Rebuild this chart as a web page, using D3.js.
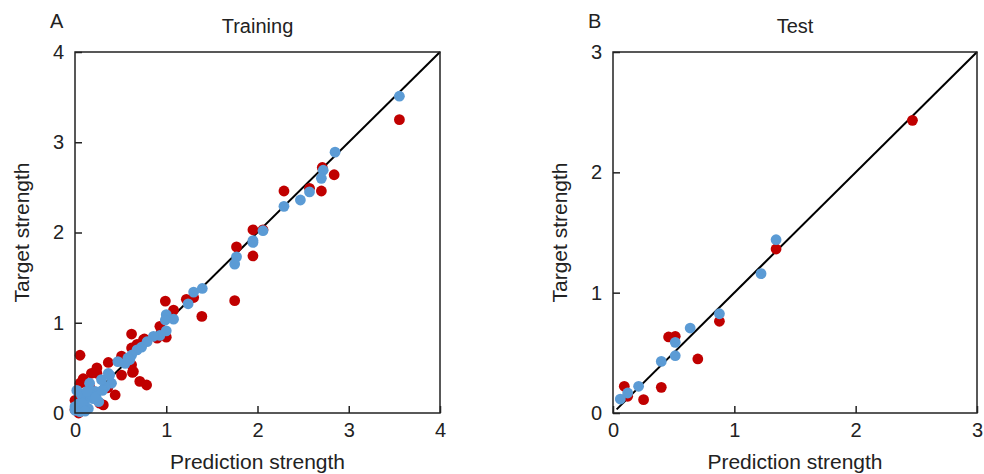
<!DOCTYPE html>
<html>
<head>
<meta charset="utf-8">
<script src="https://cdn.jsdelivr.net/npm/d3@7"></script>
<style>
  body { margin: 0; background: #fff; }
  svg { display: block; font-family: "Liberation Sans", Arial, sans-serif; }
</style>
</head>
<body>
<svg width="984" height="474"></svg>
<script>
// panel A (training): [prediction, target]
const trainingRed = [
  [3.555, 3.25], [2.84, 2.64], [2.71, 2.72], [2.70, 2.46], [2.57, 2.49], [2.29, 2.46],
  [2.06, 2.03], [1.95, 2.03], [1.95, 1.74], [1.77, 1.84], [1.75, 1.245], [1.39, 1.07],
  [1.30, 1.28], [1.22, 1.26], [1.08, 1.14], [0.99, 1.24], [1.0, 0.84], [0.93, 0.96],
  [0.90, 0.83], [0.76, 0.82], [0.75, 0.81], [0.62, 0.875], [0.62, 0.72], [0.68, 0.76],
  [0.62, 0.535], [0.63, 0.45], [0.71, 0.35], [0.785, 0.31], [0.51, 0.63], [0.365, 0.56],
  [0.51, 0.42], [0.64, 0.46], [0.44, 0.20], [0.055, 0.64], [0.055, 0.33], [0.24, 0.50],
  [0.18, 0.44], [0.09, 0.38], [0.31, 0.09], [0.0, 0.14], [0.0, 0.04], [0.04, 0.0],
  [0.27, 0.11], [0.16, 0.29], [0.36, 0.28], [0.15, 0.30], [0.24, 0.44]
]
const trainingBlue = [
  [3.555, 3.51], [2.85, 2.89], [2.72, 2.69], [2.70, 2.60], [2.57, 2.45], [2.47, 2.36],
  [2.29, 2.29], [2.06, 2.02], [1.95, 1.91], [1.95, 1.89], [1.77, 1.73], [1.75, 1.65],
  [1.395, 1.38], [1.30, 1.34], [1.24, 1.21], [1.08, 1.04], [1.0, 1.09], [0.99, 1.03],
  [1.0, 0.91], [0.93, 0.86], [0.86, 0.85], [0.79, 0.79], [0.73, 0.73], [0.68, 0.70],
  [0.62, 0.64], [0.60, 0.59], [0.58, 0.61], [0.47, 0.57], [0.55, 0.55], [0.365, 0.44],
  [0.40, 0.33], [0.33, 0.29], [0.29, 0.37], [0.16, 0.33], [0.22, 0.24], [0.26, 0.125],
  [0.20, 0.16], [0.11, 0.14], [0.055, 0.015], [0.0, 0.07], [0.02, 0.25], [0.07, 0.20],
  [0.146, 0.05], [0.04, 0.10], [0.12, 0.06], [0.08, 0.11], [0.18, 0.20], [0.23, 0.18],
  [0.30, 0.25], [0.38, 0.42], [0.0, 0.03], [0.11, 0.02], [0.13, 0.24]
]

// panel B (test)
const testRed = [
  [2.468, 2.432], [1.344, 1.363], [0.877, 0.762], [0.458, 0.632], [0.513, 0.637],
  [0.699, 0.449], [0.398, 0.213], [0.252, 0.111], [0.093, 0.222], [0.121, 0.139]
]
const testBlue = [
  [1.344, 1.44], [1.22, 1.158], [0.877, 0.825], [0.636, 0.706], [0.513, 0.587],
  [0.513, 0.476], [0.398, 0.429], [0.211, 0.222], [0.121, 0.166], [0.06, 0.116]
]

const trainingTicks = [0, 1, 2, 3, 4]
const testTicks = [0, 1, 2, 3]

const svg = d3.select('svg')
const red = '#c00000'
const blue = '#5b9bd5'
const ink = '#222'

function drawPanel (p) {
  const x = d3.scaleLinear().domain(p.domain).range([p.left, p.right])
  const y = d3.scaleLinear().domain(p.domain).range([p.bottom, p.top])
  const g = svg.append('g')

  // ticks point inward, labels outside
  const xAxis = g.append('g')
    .attr('transform', `translate(0,${p.bottom})`)
    .call(d3.axisBottom(x).tickValues(p.ticks).tickFormat(d3.format('d')).tickSize(-7).tickPadding(10))
  const yAxis = g.append('g')
    .attr('transform', `translate(${p.left},0)`)
    .call(d3.axisLeft(y).tickValues(p.ticks).tickFormat(d3.format('d')).tickSize(-7).tickPadding(11))
  for (const ax of [xAxis, yAxis]) {
    ax.select('.domain').remove()
    ax.selectAll('line').attr('stroke', ink).attr('stroke-width', 1.5)
    ax.selectAll('text').attr('fill', ink).style('font-size', '20px')
      .style('font-family', '"Liberation Sans", Arial, sans-serif')
  }

  // identity line
  g.append('line')
    .attr('x1', x(p.lineFrom)).attr('y1', y(p.lineFrom))
    .attr('x2', x(p.domain[1])).attr('y2', y(p.domain[1]))
    .attr('stroke', '#000').attr('stroke-width', 2)

  // red first, blue on top
  g.append('g').selectAll('circle').data(p.red).enter().append('circle')
    .attr('cx', d => x(d[0])).attr('cy', d => y(d[1])).attr('r', 5.4).attr('fill', red)
  g.append('g').selectAll('circle').data(p.blue).enter().append('circle')
    .attr('cx', d => x(d[0])).attr('cy', d => y(d[1])).attr('r', 5.4).attr('fill', blue)

  g.append('rect')
    .attr('x', p.left).attr('y', p.top)
    .attr('width', p.right - p.left).attr('height', p.bottom - p.top)
    .attr('fill', 'none').attr('stroke', ink).attr('stroke-width', 1.5)

  const cx = (p.left + p.right) / 2
  const cy = (p.top + p.bottom) / 2
  g.append('text').attr('x', p.left - 25).attr('y', 28).attr('fill', ink)
    .style('font-size', '20px').text(p.letter)
  g.append('text').attr('x', cx).attr('y', 33).attr('text-anchor', 'middle').attr('fill', ink)
    .style('font-size', '20px').text(p.title)
  g.append('text').attr('x', cx).attr('y', 469).attr('text-anchor', 'middle').attr('fill', ink)
    .style('font-size', '21px').text('Prediction strength')
  g.append('text').attr('transform', `translate(${p.left - 46},${cy}) rotate(-90)`)
    .attr('text-anchor', 'middle').attr('fill', ink)
    .style('font-size', '21px').text('Target strength')
}

drawPanel({
  left: 75, right: 440, top: 52, bottom: 413,
  domain: [0, 4], ticks: trainingTicks, lineFrom: 0,
  red: trainingRed, blue: trainingBlue, letter: 'A', title: 'Training'
})
drawPanel({
  left: 613, right: 977, top: 52, bottom: 413,
  domain: [0, 3], ticks: testTicks, lineFrom: 0.03,
  red: testRed, blue: testBlue, letter: 'B', title: 'Test'
})
</script>
</body>
</html>
